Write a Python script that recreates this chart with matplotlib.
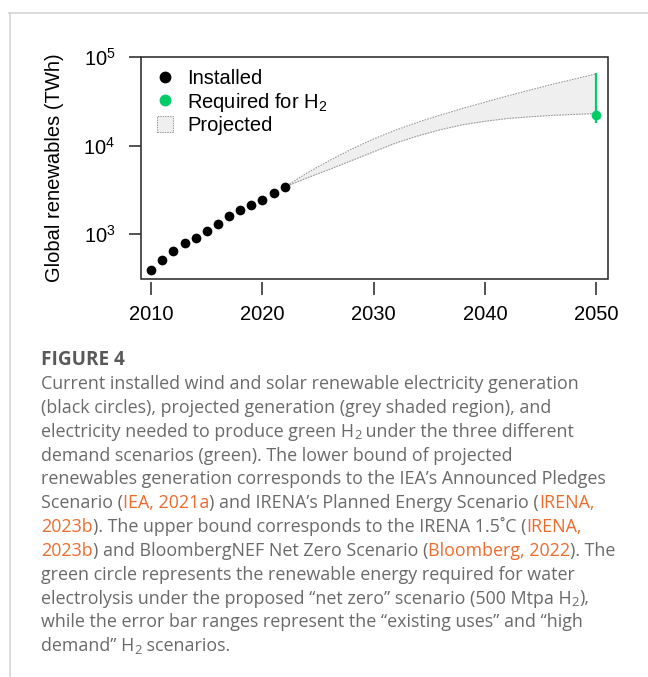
import numpy as np
import matplotlib
matplotlib.use('Agg')
import matplotlib.pyplot as plt
from matplotlib.lines import Line2D
from matplotlib.patches import Patch, Rectangle
from matplotlib.font_manager import FontProperties

plt.rcParams['font.family'] = ['Liberation Sans', 'DejaVu Sans']
plt.rcParams['mathtext.default'] = 'regular'

# installed wind + solar generation (TWh)
years = np.arange(2010, 2023)
installed = [393, 513, 638, 792, 908, 1081, 1306, 1607, 1849, 2139, 2415, 2925, 3419]

# projected range (TWh), lower / upper bound
proj_years = np.arange(2022, 2051, 2)
proj_low = [3400, 4315, 5370, 6760, 8510, 10700, 12900, 15100,
            17200, 18800, 20200, 21100, 21900, 22500, 23000]
proj_high = [3400, 4900, 6750, 9100, 11900, 15000, 18400, 22100,
             26300, 30900, 36300, 42200, 49000, 56200, 64600]

# renewables needed for green H2 in 2050 (TWh)
h2_year = 2050
h2_need = 22100
h2_low = 18000
h2_high = 66500

x_ticks = [2010, 2020, 2030, 2040, 2050]
y_ticks = [1e3, 1e4, 1e5]

green = '#00CD66'
band_fill = '#efefef'
band_edge = '#9a9a9a'

# caption: (text, kind)  n = normal, o = orange reference, s = subscript
caption = [
    [('Current installed wind and solar renewable electricity generation', 'n')],
    [('(black circles), projected generation (grey shaded region), and', 'n')],
    [('electricity needed to produce green H', 'n'), ('2', 's'),
     (' under the three different', 'n')],
    [('demand scenarios (green). The lower bound of projected', 'n')],
    [('renewables generation corresponds to the IEA\u2019s Announced Pledges', 'n')],
    [('Scenario (', 'n'), ('IEA, 2021a', 'o'),
     (') and IRENA\u2019s Planned Energy Scenario (', 'n'), ('IRENA,', 'o')],
    [('2023b', 'o'), ('). The upper bound corresponds to the IRENA 1.5\u02daC (', 'n'),
     ('IRENA,', 'o')],
    [('2023b', 'o'), (') and BloombergNEF Net Zero Scenario (', 'n'),
     ('Bloomberg, 2022', 'o'), ('). The', 'n')],
    [('green circle represents the renewable energy required for water', 'n')],
    [('electrolysis under the proposed \u201cnet zero\u201d scenario (500 Mtpa H', 'n'),
     ('2', 's'), ('),', 'n')],
    [('while the error bar ranges represent the \u201cexisting uses\u201d and \u201chigh', 'n')],
    [('demand\u201d H', 'n'), ('2', 's'), (' scenarios.', 'n')],
]

W, H = 648, 677
fig = plt.figure(figsize=(W / 100, H / 100), dpi=100)

# page frame lines
fig.add_artist(Line2D([9 / W, 1], [1 - 12.5 / H] * 2, color='#d4d4d4', lw=1.2,
                      transform=fig.transFigure))
fig.add_artist(Line2D([9.5 / W] * 2, [0, 1 - 12.5 / H], color='#d4d4d4', lw=1.2,
                      transform=fig.transFigure))

ax = fig.add_axes([140.5 / W, 1 - 279 / H, 467 / W, 222 / H])
ax.set_yscale('log')

ax.fill_between(proj_years, proj_low, proj_high, color=band_fill, lw=0, zorder=1)
ax.plot(proj_years, proj_low, color=band_edge, lw=0.8, ls=(0, (1.5, 1)), zorder=2)
ax.plot(proj_years, proj_high, color=band_edge, lw=0.8, ls=(0, (1.5, 1)), zorder=2)

ax.plot(years, installed, 'o', color='black', ms=7, mew=0, zorder=3)

ax.errorbar([h2_year], [h2_need],
            yerr=[[h2_need - h2_low], [h2_high - h2_need]],
            fmt='o', color=green, ecolor=green, ms=7, mew=0, elinewidth=1.6,
            capsize=4.5, capthick=1.6, zorder=4)

ax.set_xlim(2009.04, 2051.0)
ax.set_ylim(311, 1e5)
ax.set_xticks(x_ticks)
ax.set_yticks(y_ticks)
ax.minorticks_off()
ax.tick_params(labelsize=14.5, length=9, width=1.1, color='#222222', direction='out')
ax.tick_params(axis='x', pad=7)
ax.tick_params(axis='y', pad=9)
ax.set_ylabel('Global renewables (TWh)', fontsize=14.5, labelpad=14)

# box drawn separately so x ticks sit just below it
for s in ax.spines.values():
    s.set_visible(False)
ax.spines['bottom'].set_position(('outward', 2.5))
ax.add_patch(Rectangle((0, 0), 1, 1, transform=ax.transAxes, fill=False,
                       ec='#222222', lw=1.1, clip_on=False, zorder=5))

handles = [
    Line2D([], [], ls='none', marker='o', color='black', ms=8.5, mew=0),
    Line2D([], [], ls='none', marker='o', color=green, ms=8.5, mew=0),
    Patch(facecolor=band_fill, edgecolor=band_edge, lw=0.7, ls=(0, (1.5, 1))),
]
ax.legend(handles, ['Installed', 'Required for H$_2$', 'Projected'],
          loc='upper left', bbox_to_anchor=(0.035, 0.945), frameon=False,
          fontsize=14.5, borderpad=0, borderaxespad=0, labelspacing=0.12,
          handlelength=0.8, handleheight=0.8, handletextpad=0.7)

# caption
renderer = fig.canvas.get_renderer()
cap_font = 'Open Sans'
grey = '#6a6a6a'
orange = '#ef6b2c'


def ink_w(s, size, weight='normal'):
    fp = FontProperties(family=cap_font, size=size, weight=weight)
    return renderer.get_text_width_height_descent(s, fp, ismath=False)[0]


def advance(s, size, weight='normal'):
    # pen advance of s, independent of side bearings
    return ink_w(s + s[0], size, weight) - ink_w(s[0], size, weight)


# size the caption so its first line spans the same width as the original
cap_size = 12 * 535 / ink_w(caption[0][0][0], 12)
fig_size = 12 * 83 / ink_w('FIGURE 4', 12, 'bold')

x0 = 41
fig.text(x0 / W, 1 - 365 / H, 'FIGURE 4', fontsize=fig_size, family=cap_font,
         weight='bold', color='#595959', va='baseline')

base = 389.3
step = 23.8
for i, line in enumerate(caption):
    y = base + i * step
    x = x0
    for txt, kind in line:
        if kind == 's':
            size = cap_size * 0.72
            dy = 2.5
            col = grey
        else:
            size = cap_size
            dy = 0
            col = orange if kind == 'o' else grey
        fig.text(x / W, 1 - (y + dy) / H, txt, fontsize=size, family=cap_font,
                 color=col, va='baseline')
        x += advance(txt, size)

fig.savefig('out.png', dpi=100)
